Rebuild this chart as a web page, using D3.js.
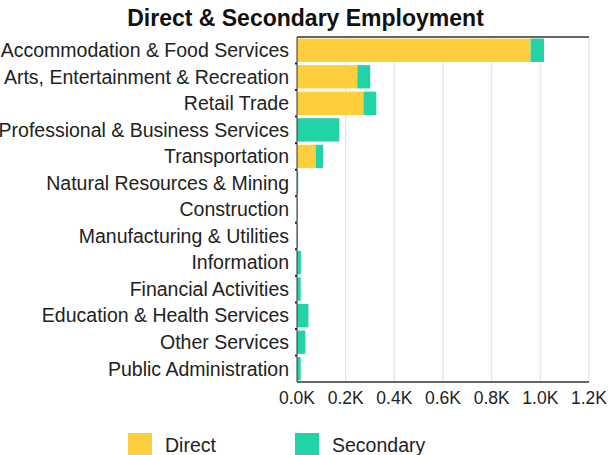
<!DOCTYPE html>
<html>
<head>
<meta charset="utf-8">
<script src="https://cdn.jsdelivr.net/npm/d3@7/dist/d3.min.js"></script>
<style>
  html, body { margin: 0; padding: 0; background: #fff; }
  svg { display: block; font-family: "Liberation Sans", Arial, sans-serif; }
</style>
</head>
<body>
<svg id="chart" width="610" height="455"></svg>
<script>
const categories = [
  "Accommodation & Food Services",
  "Arts, Entertainment & Recreation",
  "Retail Trade",
  "Professional & Business Services",
  "Transportation",
  "Natural Resources & Mining",
  "Construction",
  "Manufacturing & Utilities",
  "Information",
  "Financial Activities",
  "Education & Health Services",
  "Other Services",
  "Public Administration"
];
const directValues    = [960, 248, 273, 0, 77, 0, 0, 0, 0, 0, 0, 0, 0];
const secondaryValues = [55, 53, 53, 174, 30, 5, 3, 4, 16, 15, 47, 34, 15];
const xTicks = [0, 200, 400, 600, 800, 1000, 1200];
const seriesNames = ["Direct", "Secondary"];
const seriesColors = ["#FFCE3D", "#21D3A6"];

const svg = d3.select("#chart");
const m = { left: 297, top: 37, right: 21, bottom: 73 };
const W = 610, H = 455;
const x = d3.scaleLinear().domain([0, 1200]).range([m.left, W - m.right]);
const y = d3.scaleBand().domain(categories).range([m.top, H - m.bottom]).paddingInner(0.12).paddingOuter(0.06);

// gridlines
svg.append("g").selectAll("line").data(xTicks.slice(1)).join("line")
  .attr("x1", d => x(d)).attr("x2", d => x(d))
  .attr("y1", m.top).attr("y2", H - m.bottom)
  .attr("stroke", "#e3e3e3").attr("stroke-width", 1.2);

// stacked bars
const rows = categories.map((c, i) => ({ cat: c, Direct: directValues[i], Secondary: secondaryValues[i] }));
const stack = d3.stack().keys(seriesNames)(rows);
svg.append("g").selectAll("g").data(stack).join("g")
  .attr("fill", (d, i) => seriesColors[i])
  .selectAll("rect").data(d => d).join("rect")
  .attr("x", d => x(d[0]))
  .attr("width", d => Math.max(0, x(d[1]) - x(d[0])))
  .attr("y", d => y(d.data.cat))
  .attr("height", y.bandwidth());

// top and bottom lines
svg.append("line").attr("x1", m.left).attr("x2", W - m.right).attr("y1", m.top).attr("y2", m.top)
  .attr("stroke", "#333").attr("stroke-width", 1.5);
svg.append("line").attr("x1", m.left).attr("x2", W - m.right).attr("y1", H - m.bottom).attr("y2", H - m.bottom)
  .attr("stroke", "#333").attr("stroke-width", 1.5);

// y axis line with boundary ticks
svg.append("line").attr("x1", m.left).attr("x2", m.left).attr("y1", m.top).attr("y2", H - m.bottom)
  .attr("stroke", "#333").attr("stroke-width", 1);
const step = y.step();
svg.append("g").selectAll("line").data(categories.slice(1)).join("line")
  .attr("x1", m.left - 2).attr("x2", m.left)
  .attr("y1", d => y(d) - step * y.paddingInner() / 2).attr("y2", d => y(d) - step * y.paddingInner() / 2)
  .attr("stroke", "#222").attr("stroke-width", 2);

// category labels
svg.append("g").selectAll("text").data(categories).join("text")
  .attr("x", m.left - 8)
  .attr("y", d => y(d) + y.bandwidth() / 2)
  .attr("dy", "0.35em")
  .attr("text-anchor", "end")
  .attr("font-size", "19.5px")
  .attr("fill", "#222")
  .text(d => d);

// x tick labels
const fmt = d => (d / 1000).toFixed(1) + "K";
svg.append("g").selectAll("text").data(xTicks).join("text")
  .attr("x", d => x(d))
  .attr("y", 398)
  .attr("dy", "0.35em")
  .attr("text-anchor", "middle")
  .attr("font-size", "17.5px")
  .attr("fill", "#222")
  .text(fmt);

// title
svg.append("text")
  .attr("x", 305.5).attr("y", 26)
  .attr("text-anchor", "middle")
  .attr("font-size", "23px").attr("font-weight", "bold")
  .attr("fill", "#111")
  .text("Direct & Secondary Employment");

// legend
const legendX = [128, 295];
const lg = svg.append("g").selectAll("g").data(seriesNames).join("g")
  .attr("transform", (d, i) => `translate(${legendX[i]},0)`);
lg.append("rect").attr("x", 0).attr("y", 433).attr("width", 24).attr("height", 22)
  .attr("fill", (d, i) => seriesColors[i]);
lg.append("text").attr("x", 37).attr("y", 445).attr("dy", "0.35em")
  .attr("font-size", "19.5px").attr("fill", "#222").text(d => d);
</script>
</body>
</html>
